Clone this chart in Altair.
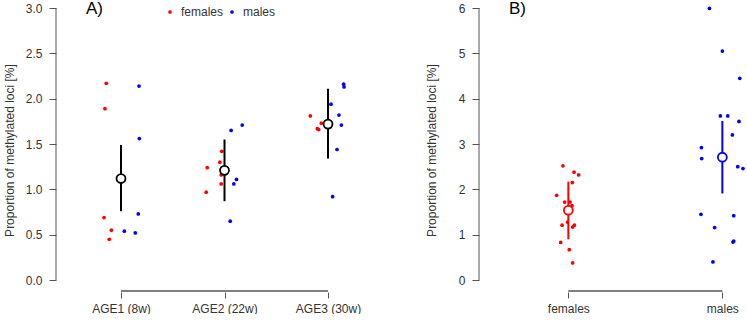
import json
import altair as alt
import pandas as pd

FONT = "Liberation Sans"
RED = "#FF0000"
BLUE = "#0000FF"
AXIS_GREY = "#555555"
TEXT_GREY = "#333333"
Y_TITLE = "Proportion of methylated loci [%]"

# ---------------- Panel A: methylation by age group ----------------
age_groups = ["AGE1 (8w)", "AGE2 (22w)", "AGE3 (30w)"]

a_female_group = [1, 1, 1, 1, 1, 2, 2, 2, 2, 2, 2, 3, 3, 3, 3]
a_female_jitter = [-0.142, -0.155, -0.164, -0.093, -0.113,
                   -0.167, -0.177, -0.026, -0.045, -0.032, -0.032,
                   -0.171, -0.064, -0.103, -0.090]
a_female_value = [2.17, 1.89, 0.69, 0.55, 0.45,
                  1.24, 0.97, 1.42, 1.30, 1.16, 1.06,
                  1.81, 1.73, 1.67, 1.66]

a_male_group = [1, 1, 1, 1, 1, 2, 2, 2, 2, 2, 3, 3, 3, 3, 3, 3, 3]
a_male_jitter = [0.174, 0.177, 0.167, 0.032, 0.138,
                 0.171, 0.064, 0.116, 0.090, 0.055,
                 0.151, 0.155, 0.029, 0.106, 0.129, 0.087, 0.045]
a_male_value = [2.14, 1.56, 0.73, 0.54, 0.52,
                1.71, 1.65, 1.11, 1.06, 0.65,
                2.16, 2.13, 1.94, 1.82, 1.71, 1.44, 0.92]

a_mean = [1.12, 1.21, 1.72]
a_lower = [0.76, 0.87, 1.34]
a_upper = [1.49, 1.55, 2.11]
a_ticks = [0.0, 0.5, 1.0, 1.5, 2.0, 2.5, 3.0]

# ---------------- Panel B: methylation by sex ----------------
sexes = ["females", "males"]

b_female_jitter = [-0.035, 0.037, 0.067, 0.026, -0.076, -0.024, 0.011, 0.024,
                   -0.006, -0.041, 0.039, 0.028, -0.050, 0.006, 0.028]
b_female_value = [2.52, 2.38, 2.32, 2.15, 1.87, 1.72, 1.72, 1.64,
                  1.28, 1.21, 1.21, 1.17, 0.83, 0.67, 0.38]

b_male_jitter = [-0.084, 0.000, 0.113, -0.013, 0.035, 0.108, 0.065, -0.136,
                 -0.134, 0.100, 0.134, -0.139, 0.074, -0.050, 0.074, 0.069, -0.061]
b_male_value = [5.99, 5.05, 4.45, 3.62, 3.62, 3.50, 3.20, 2.92,
                2.68, 2.50, 2.46, 1.45, 1.42, 1.16, 0.86, 0.84, 0.40]

b_mean = [1.54, 2.71]
b_lower = [0.90, 1.91]
b_upper = [2.17, 3.51]
b_ticks = [0, 1, 2, 3, 4, 5, 6]

# ---------------- tables ----------------
points_a = pd.concat([
    pd.DataFrame({"x": [g + j for g, j in zip(a_female_group, a_female_jitter)],
                  "value": a_female_value, "sex": "females"}),
    pd.DataFrame({"x": [g + j for g, j in zip(a_male_group, a_male_jitter)],
                  "value": a_male_value, "sex": "males"}),
], ignore_index=True)
summary_a = pd.DataFrame({"x": [1, 2, 3], "mean": a_mean, "lower": a_lower, "upper": a_upper})

points_b = pd.concat([
    pd.DataFrame({"x": [1 + j for j in b_female_jitter], "value": b_female_value, "sex": "females"}),
    pd.DataFrame({"x": [2 + j for j in b_male_jitter], "value": b_male_value, "sex": "males"}),
], ignore_index=True)
summary_b = pd.DataFrame({"x": [1, 2], "mean": b_mean, "lower": b_lower, "upper": b_upper,
                          "sex": sexes})

sex_color = alt.Scale(domain=sexes, range=[RED, BLUE])

PANEL_H = 284


def x_axis(labels):
    return alt.Axis(values=list(range(1, len(labels) + 1)),
                    labelExpr=f"{json.dumps(labels)}[datum.value - 1]",
                    domain=False, grid=False, tickSize=6, labelPadding=5, title=None)


def y_axis(ticks, fmt, title_pad):
    return alt.Axis(values=ticks, format=fmt, domain=False, grid=False, tickSize=7,
                    labelPadding=7, title=Y_TITLE, titlePadding=title_pad,
                    titleFontWeight="normal")


def panel(points, summary, labels, xdom, ydom, bracket_y, ticks, fmt, width, title_pad,
          tag, colored_summary):
    xs = alt.Scale(domain=xdom, nice=False, zero=False)
    ys = alt.Scale(domain=ydom, nice=False, zero=False)

    pts = alt.Chart(points).mark_circle(size=14, opacity=1).encode(
        x=alt.X("x:Q", scale=xs, axis=x_axis(labels)),
        y=alt.Y("value:Q", scale=ys, axis=y_axis(ticks, fmt, title_pad)),
        color=alt.Color("sex:N", scale=sex_color, legend=None),
    )

    if colored_summary:
        bars = alt.Chart(summary).mark_rule(strokeWidth=2).encode(
            x="x:Q", y="lower:Q", y2="upper",
            color=alt.Color("sex:N", scale=sex_color, legend=None))
        means = alt.Chart(summary).mark_point(
            shape="circle", filled=True, fill="white", size=80, strokeWidth=1.8, opacity=1
        ).encode(x="x:Q", y="mean:Q",
                 stroke=alt.Stroke("sex:N", scale=sex_color, legend=None))
    else:
        bars = alt.Chart(summary).mark_rule(strokeWidth=2, color="black").encode(
            x="x:Q", y="lower:Q", y2="upper")
        means = alt.Chart(summary).mark_point(
            shape="circle", filled=True, fill="white", stroke="black", size=80,
            strokeWidth=1.8, opacity=1
        ).encode(x="x:Q", y="mean:Q")

    # y axis line spanning only the first to last tick, base-graphics style
    y_line = alt.Chart(pd.DataFrame({"ax": [xdom[0]], "lo": [ticks[0]], "hi": [ticks[-1]]})
                       ).mark_rule(color=AXIS_GREY, strokeWidth=1).encode(
        x="ax:Q", y="lo:Q", y2="hi")

    # bracket joining the first and last category
    n = len(labels)
    px_per_unit = width / (xdom[1] - xdom[0])
    bracket_df = pd.DataFrame({"by": [bracket_y], "left": [1], "right": [n],
                               "mid": [(1 + n) / 2]})
    bracket_rule = alt.Chart(bracket_df).mark_rule(color=AXIS_GREY, strokeWidth=1).encode(
        y="by:Q", x="left:Q", x2="right")
    bracket_tick = alt.Chart(bracket_df).mark_tick(
        color=AXIS_GREY, orient="horizontal", size=(n - 1) * px_per_unit, thickness=1,
        opacity=1
    ).encode(x="mid:Q", y="by:Q")

    tag_text = alt.Chart(pd.DataFrame({"t": [tag]})).mark_text(
        font=FONT, fontSize=17, color="black", align="left", baseline="alphabetic"
    ).encode(x=alt.value(30), y=alt.value(6), text="t:N")

    return alt.layer(pts, y_line, bars, means, tag_text, bracket_rule, bracket_tick
                     ).properties(width=width, height=PANEL_H)


panel_a = panel(points_a, summary_a, age_groups, [0.372, 3.628], [-0.131, 3.0], -0.12,
                a_ticks, ".1f", 337, 9, "A)", False)

# legend across the top of panel A
legend_df = pd.DataFrame({"sex": sexes})
legend_layers = []
for i, (name, col) in enumerate(zip(sexes, [RED, BLUE])):
    sub = legend_df[legend_df.sex == name]
    dot_x = 114 + i * 62
    legend_layers.append(alt.Chart(sub).mark_circle(size=14, opacity=1, color=col).encode(
        x=alt.value(dot_x), y=alt.value(4)))
    legend_layers.append(alt.Chart(sub).mark_text(
        font=FONT, fontSize=12, color=TEXT_GREY, align="left", baseline="middle"
    ).encode(x=alt.value(dot_x + 11), y=alt.value(4), text="sex:N"))

panel_a = alt.layer(panel_a, *legend_layers)

panel_b = panel(points_b, summary_b, sexes, [0.42, 2.16], [-0.262, 6.0], -0.24,
                b_ticks, "d", 268, 20, "B)", True)

chart = alt.hconcat(panel_a, panel_b, spacing=86, bounds="flush").properties(
    padding={"left": 3, "top": 0, "right": 0, "bottom": 0},
    background="white",
).configure_view(stroke=None).configure_axis(
    labelFont=FONT, labelFontSize=12, labelColor=TEXT_GREY,
    titleFont=FONT, titleFontSize=12, titleColor=TEXT_GREY, titleFontWeight="normal",
    tickColor=AXIS_GREY, tickWidth=1,
)

chart.save("out.html", embed_options={"renderer": "svg", "actions": False})
